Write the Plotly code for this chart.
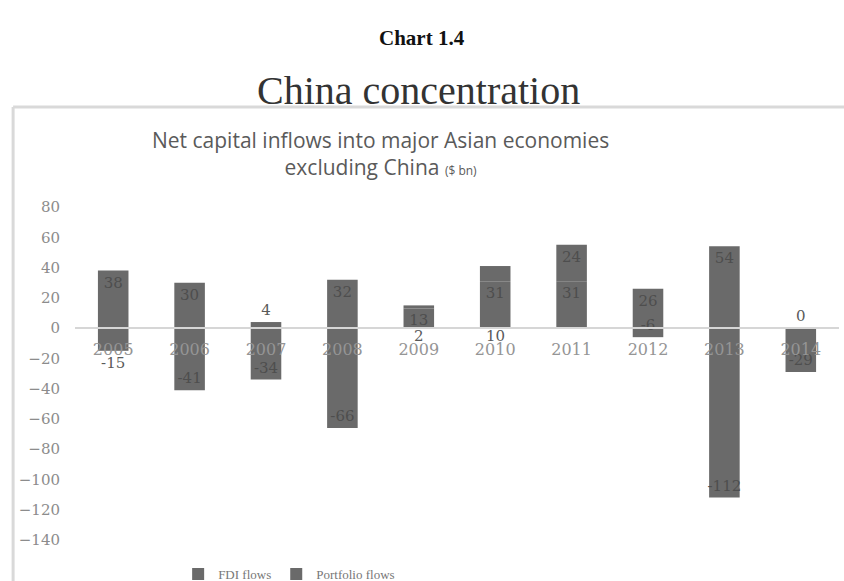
import plotly.graph_objects as go

# Net capital inflows into major Asian economies excluding China, $ bn
years = ["2005", "2006", "2007", "2008", "2009", "2010", "2011", "2012", "2013", "2014"]
fdi_flows = [38, 30, 4, 32, 13, 31, 31, 26, 54, 0]
portfolio_flows = [-15, -41, -34, -66, 2, 10, 24, -6, -112, -29]
y_ticks = [80, 60, 40, 20, 0, -20, -40, -60, -80, -100, -120, -140]

Y_MIN, Y_MAX = -140, 80
BAR = "#6a6a6a"
LABEL = "#4e4e4e"
TICK = "#8c8c8c"
NUM_FONT = "DejaVu Serif"

# bar slots along the category axis
slots = list(range(len(years)))

# label placement per bar segment
fdi_pos = ["inside", "inside", "outside", "inside", "inside",
           "inside", "inside", "inside", "inside", "outside"]
pf_pos = ["outside", "inside", "inside", "inside", "none",
          "none", "inside", "inside", "inside", "inside"]

bar_style = dict(marker_color=BAR, marker_line_width=0, width=0.4,
                 insidetextanchor="end", cliponaxis=False,
                 textangle=0, constraintext="none",
                 insidetextfont=dict(family=NUM_FONT, size=15, color=LABEL),
                 outsidetextfont=dict(family=NUM_FONT, size=15, color="#5a5a5a"))

fig = go.Figure()
fig.add_trace(go.Bar(x=slots, y=fdi_flows, name="FDI flows",
                     text=[str(v) for v in fdi_flows], textposition=fdi_pos,
                     **bar_style))
fig.add_trace(go.Bar(x=slots, y=portfolio_flows, name="Portfolio flows",
                     text=[str(v) for v in portfolio_flows], textposition=pf_pos,
                     **bar_style))

# small positive portfolio segments are labelled just under the zero line
annotations = []
for s, v, pos in zip(slots, portfolio_flows, pf_pos):
    if pos == "none":
        annotations.append(dict(x=s, y=0, xref="x", yref="y", text=str(v),
                                showarrow=False, yshift=-8, yanchor="middle",
                                font=dict(family=NUM_FONT, size=15, color="#5a5a5a")))

annotations += [
    dict(x=0.454, y=1.508, xref="paper", yref="paper", text="<b>Chart 1.4</b>",
         showarrow=False, yanchor="middle",
         font=dict(family="Liberation Serif", size=21, color="#111")),
    dict(x=0.449, y=1.35, xref="paper", yref="paper", text="China concentration",
         showarrow=False, yanchor="middle",
         font=dict(family="Liberation Serif", size=40, color="#333")),
    dict(x=0.40, y=1.16, xref="paper", yref="paper",
         text="Net capital inflows into major Asian economies<br>excluding China <span style='font-size:12px'>($ bn)</span>",
         showarrow=False, align="center", yanchor="middle",
         font=dict(family="Open Sans", size=21, color="#5a5a5a")),
]

fig.update_layout(
    barmode="relative",
    width=844, height=581,
    margin=dict(l=75, r=5, t=207, b=41, autoexpand=False),
    paper_bgcolor="white", plot_bgcolor="white",
    showlegend=True,
    legend=dict(orientation="h", x=0.135, xanchor="left",
                yref="container", y=0.012, yanchor="middle",
                font=dict(family="Liberation Serif", size=13, color="#777"),
                itemwidth=30, traceorder="normal",
                bgcolor="rgba(0,0,0,0)"),
    xaxis=dict(type="linear", range=[-0.5, len(years) - 0.5],
               tickvals=slots, ticktext=years,
               anchor="free", position=(0 - Y_MIN) / (Y_MAX - Y_MIN),
               showline=True, linecolor="#d6d6d6", linewidth=2,
               layer="above traces", showgrid=False, zeroline=False, ticks="",
               ticklabelstandoff=7,
               tickfont=dict(family=NUM_FONT, size=16, color="#959595")),
    yaxis=dict(range=[Y_MIN, Y_MAX], tickvals=y_ticks, showgrid=False,
               zeroline=False, showline=False, ticklabelstandoff=14,
               tickfont=dict(family=NUM_FONT, size=15, color=TICK)),
    annotations=annotations,
    shapes=[
        dict(type="line", xref="paper", yref="paper", x0=-0.081, x1=1.01,
             y0=1.300, y1=1.300, line=dict(color="#d9d9d9", width=3)),
        dict(type="line", xref="paper", yref="paper", x0=-0.081, x1=-0.081,
             y0=1.300, y1=-0.13, line=dict(color="#d9d9d9", width=3)),
    ],
)

fig.write_html("out.html")
